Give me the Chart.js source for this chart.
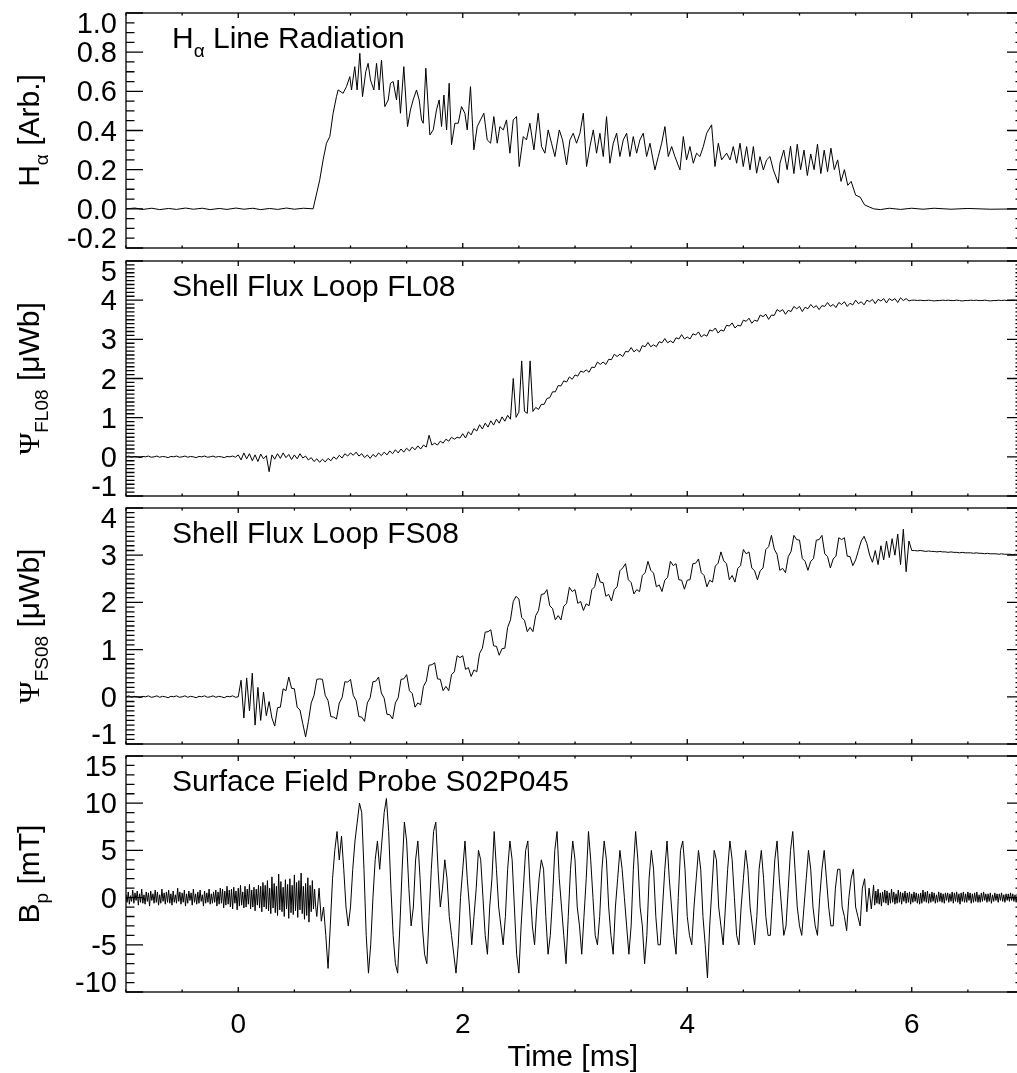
<!DOCTYPE html>
<html>
<head>
<meta charset="utf-8">
<script src="https://cdn.jsdelivr.net/npm/chart.js@4.4.0/dist/chart.umd.min.js"></script>
<style>
html,body{margin:0;padding:0;background:#fff;overflow:hidden;width:1017px;height:1073px}
#wrap{position:relative;width:1040px;height:1073px}
#wrap canvas{position:absolute;left:0;top:0}
</style>
</head>
<body>
<div id="wrap">
  <canvas id="p1" width="1040" height="1073"></canvas>
  <canvas id="p2" width="1040" height="1073"></canvas>
  <canvas id="p3" width="1040" height="1073"></canvas>
  <canvas id="p4" width="1040" height="1073"></canvas>
</div>
<script>
/* H-alpha: [time ms, value] pairs */
const haPts = [[-1,0],[-0.92,0.004],[-0.85,-0.003],[-0.77,0.003],[-0.7,-0.004],[-0.62,0.002],[-0.55,-0.003],
[-0.47,0.004],[-0.4,-0.002],[-0.32,0.003],[-0.25,-0.004],[-0.17,0.002],[-0.1,-0.003],[-0.02,0.004],[0.05,-0.002],
[0.13,0.003],[0.2,-0.004],[0.28,0.002],[0.35,-0.003],[0.43,0.004],[0.5,-0.002],[0.58,0.003],[0.667,0],
[0.726,0.148],[0.756,0.25],[0.786,0.335],[0.816,0.37],[0.845,0.488],[0.875,0.573],[0.89,0.607],[0.934,0.59],
[0.964,0.624],[0.994,0.675],[1.009,0.607],[1.038,0.726],[1.059,0.607],[1.083,0.794],[1.107,0.573],[1.136,0.70],
[1.157,0.743],[1.178,0.658],[1.208,0.607],[1.232,0.743],[1.255,0.607],[1.276,0.76],[1.306,0.522],[1.336,0.556],
[1.356,0.641],[1.38,0.65],[1.41,0.556],[1.425,0.658],[1.445,0.488],[1.475,0.726],[1.508,0.42],[1.534,0.505],
[1.558,0.556],[1.588,0.607],[1.612,0.556],[1.633,0.454],[1.648,0.437],[1.671,0.718],[1.707,0.377],[1.737,0.403],
[1.766,0.505],[1.79,0.556],[1.811,0.42],[1.832,0.581],[1.856,0.403],[1.879,0.641],[1.9,0.327],[1.93,0.437],
[1.96,0.437],[1.989,0.522],[2.019,0.488],[2.04,0.403],[2.069,0.624],[2.099,0.301],[2.129,0.42],[2.158,0.454],
[2.188,0.488],[2.218,0.352],[2.248,0.335],[2.277,0.471],[2.307,0.335],[2.331,0.42],[2.361,0.403],[2.39,0.454],
[2.42,0.284],[2.45,0.454],[2.479,0.471],[2.503,0.216],[2.539,0.369],[2.568,0.352],[2.598,0.437],[2.634,0.301],
[2.672,0.488],[2.702,0.318],[2.732,0.284],[2.761,0.403],[2.791,0.335],[2.821,0.267],[2.86,0.403],[2.889,0.352],
[2.925,0.225],[2.955,0.352],[2.984,0.386],[3.014,0.335],[3.044,0.386],[3.074,0.488],[3.103,0.216],[3.133,0.318],
[3.163,0.403],[3.192,0.284],[3.222,0.386],[3.252,0.267],[3.281,0.471],[3.311,0.233],[3.341,0.335],[3.371,0.386],
[3.4,0.267],[3.43,0.352],[3.46,0.386],[3.489,0.267],[3.519,0.369],[3.549,0.284],[3.578,0.352],[3.608,0.386],
[3.638,0.267],[3.668,0.335],[3.712,0.199],[3.742,0.267],[3.772,0.335],[3.801,0.42],[3.831,0.267],[3.861,0.318],
[3.89,0.267],[3.935,0.199],[3.965,0.369],[3.994,0.25],[4.024,0.318],[4.054,0.233],[4.083,0.284],[4.113,0.267],
[4.143,0.318],[4.173,0.386],[4.217,0.429],[4.247,0.216],[4.277,0.335],[4.306,0.25],[4.351,0.284],[4.381,0.25],
[4.41,0.318],[4.44,0.233],[4.47,0.335],[4.499,0.216],[4.529,0.318],[4.559,0.199],[4.589,0.318],[4.618,0.182],
[4.648,0.267],[4.678,0.199],[4.707,0.25],[4.737,0.267],[4.767,0.199],[4.811,0.131],[4.826,0.233],[4.86,0.30],
[4.89,0.2],[4.92,0.32],[4.95,0.18],[4.98,0.33],[5.01,0.2],[5.04,0.30],[5.07,0.17],[5.1,0.28],[5.13,0.2],
[5.16,0.33],[5.19,0.18],[5.22,0.3],[5.25,0.19],[5.28,0.31],[5.31,0.2],[5.34,0.25],[5.37,0.14],[5.4,0.2],
[5.43,0.12],[5.46,0.14],[5.5,0.07],[5.54,0.06],[5.58,0.02],[5.62,0.01],[5.66,0],[5.72,-0.004],[5.8,0.003],
[5.9,-0.003],[6.0,0.003],[6.1,-0.002],[6.2,0.003],[6.35,-0.002],[6.5,0.002],[6.7,-0.002],[7,0]];

/* FL08 flux, sampled every 0.025 ms from -1 ms */
const fl08Start = -1, fl08Step = 0.025;
const fl08Vals = [
0,0.02,-0.01,0.01,0,-0.02,0.01,0,0.02,-0.01, 0,0.02,-0.01,0.01,0,-0.02,0.01,0,0.02,-0.01,
0,0.02,-0.01,0.01,0,-0.02,0.01,0,0.02,-0.01, 0,0.02,-0.01,0.01,0,-0.02,0.01,0,0.02,-0.01,
0.05,-0.08,0.1,-0.05,0.08,-0.1,0.05,-0.12,0.07,-0.05,
0.03,-0.38,0.05,-0.06,0.08,-0.04,0.1,-0.02,0.06,-0.07,
0.05,-0.05,0.08,-0.03,0.02,-0.08,-0.02,-0.12,-0.05,-0.14,
-0.06,-0.13,-0.04,-0.1,0.0,-0.06,0.04,-0.03,0.08,0.02,
0.1,0.04,0.12,0.02,0.08,-0.02,0.05,-0.04,0.06,0.0,
0.1,0.03,0.12,0.05,0.15,0.08,0.18,0.1,0.2,0.12,
0.22,0.15,0.25,0.18,0.28,0.2,0.3,0.25,0.55,0.3,
0.35,0.3,0.4,0.35,0.45,0.4,0.5,0.45,0.5,0.48,
0.59,0.48,0.64,0.56,0.72,0.66,0.82,0.71,0.86,0.76,
0.92,0.81,0.96,0.86,1.02,0.91,1.06,0.96,2.0,1.01,
1.14,2.45,1.16,1.11,2.45,1.16,1.26,1.21,1.34,1.34,
1.49,1.51,1.66,1.66,1.82,1.81,1.94,1.91,2.04,1.98,
2.09,2.06,2.19,2.16,2.22,2.16,2.29,2.28,2.42,2.36,
2.42,2.36,2.49,2.48,2.62,2.56,2.62,2.56,2.69,2.68,
2.79,2.68,2.74,2.68,2.84,2.81,2.92,2.81,2.86,2.81,
2.94,2.91,3.02,2.91,2.96,2.91,3.04,3.01,3.12,3.01,
3.06,3.01,3.14,3.11,3.19,3.06,3.12,3.08,3.24,3.21,
3.29,3.16,3.24,3.21,3.36,3.34,3.42,3.29,3.36,3.34,
3.49,3.46,3.54,3.41,3.49,3.46,3.62,3.58,3.64,3.51,
3.62,3.61,3.76,3.71,3.76,3.64,3.74,3.71,3.84,3.78,
3.84,3.71,3.82,3.78,3.89,3.81,3.86,3.76,3.86,3.84,
3.94,3.84,3.89,3.81,3.94,3.89,3.96,3.84,3.92,3.88,
4.0,3.91,3.96,3.88,4.0,3.96,4.02,3.91,4.02,3.98,
4.04,3.93,4.04,3.99,4.04,3.94,4.06,3.99,4.04,3.98,
4.0,
4.0,3.99,4.0,3.99,3.99,4.0,3.99,3.98,3.99,3.99, 4.0,3.99,4.0,3.99,3.99,4.0,3.99,3.98,3.99,3.99,
4.0,3.99,4.0,3.99,3.99,4.0,3.99,3.98,3.99,3.99, 4.0,3.99,4.0,3.99,3.99,4.0,3.99,3.98,3.99,3.99];

/* FS08 flux, sampled every 0.025 ms from -1 ms */
const fs08Start = -1, fs08Step = 0.025;
const fs08Vals = [
0,0.02,-0.01,0.01,0,-0.02,0.01,0,0.02,-0.01, 0,0.02,-0.01,0.01,0,-0.02,0.01,0,0.02,-0.01,
0,0.02,-0.01,0.01,0,-0.02,0.01,0,0.02,-0.01, 0,0.02,-0.01,0.01,0,-0.02,0.01,0,0.02,-0.01,
0.0,0.35,-0.45,0.4,-0.3,0.5,-0.6,0.2,-0.5,0.1,
-0.4,-0.1,-0.45,-0.62,-0.23,-0.22,0.17,0.13,0.42,0.18,
0.17,-0.22,-0.28,-0.57,-0.85,-0.52,-0.13,0.03,0.37,0.38,
0.37,0.03,-0.08,-0.42,-0.43,-0.47,-0.13,-0.02,0.32,0.31,
0.37,0.03,-0.08,-0.42,-0.43,-0.52,-0.13,-0.02,0.32,0.33,
0.42,0.08,-0.03,-0.37,-0.38,-0.47,-0.13,-0.02,0.37,0.38,
0.47,0.13,0.07,-0.22,-0.13,-0.17,0.22,0.33,0.67,0.68,
0.72,0.38,0.37,0.13,0.22,0.13,0.47,0.53,0.87,0.83,
0.87,0.58,0.62,0.43,0.57,0.53,0.92,1.03,1.37,1.38,
1.42,1.08,1.07,0.88,1.02,1.03,1.47,1.63,2.02,2.13,
2.07,1.68,1.62,1.38,1.47,1.38,1.72,1.83,2.17,2.18,
2.27,1.93,1.87,1.63,1.72,1.63,1.92,1.98,2.32,2.23,
2.27,1.98,2.02,1.83,1.97,1.93,2.27,2.33,2.62,2.43,
2.42,2.13,2.17,2.03,2.27,2.33,2.67,2.73,2.82,2.48,
2.42,2.18,2.27,2.23,2.57,2.63,2.87,2.68,2.62,2.33,
2.37,2.23,2.47,2.53,2.87,2.78,2.82,2.48,2.47,2.28,
2.47,2.48,2.82,2.83,2.92,2.63,2.57,2.33,2.47,2.43,
2.77,2.83,3.07,2.88,2.82,2.48,2.57,2.43,2.72,2.78,
3.12,3.03,3.07,2.73,2.67,2.48,2.67,2.73,3.12,3.18,
3.42,3.13,3.02,2.68,2.72,2.63,2.97,3.08,3.42,3.33,
3.32,2.93,2.87,2.68,2.87,2.93,3.32,3.33,3.42,3.03,
2.97,2.73,2.92,2.98,3.37,3.33,3.37,2.98,2.97,2.78,
2.9,3.1,3.3,3.4,3.25,3.0,2.85,3.1,2.8,3.2,
2.9,3.3,2.95,3.35,3.0,3.45,2.8,3.55,2.65,3.3,
3.1,
3.1,3.09,3.1,3.09,3.08,3.09,3.08,3.08,3.07,3.08, 3.07,3.07,3.06,3.07,3.06,3.06,3.05,3.06,3.05,3.05,
3.05,3.04,3.05,3.04,3.04,3.03,3.04,3.03,3.03,3.03, 3.02,3.03,3.02,3.02,3.02,3.01,3.02,3.01,3.01,3.01];

/* surface probe Bp [mT]: quiet lead-in (0.01 ms steps), active phase (0.02 ms), quiet tail (0.01 ms) */
const bpLeadStart = -1, bpLeadStep = 0.01;
const bpLead = [
0.3,-0.5,0.6,-0.7,0.2,-0.4,0.8,-0.6,0.5,-0.3, 0.7,-0.8,0.4,-0.5,0.9,-0.6,0.3,-0.7,0.6,-0.4,
0.5,-0.9,0.7,-0.3,0.4,-0.6,0.8,-0.5,0.6,-0.8, 0.3,-0.6,0.9,-0.4,0.5,-0.7,0.6,-0.5,0.8,-0.6,
0.4,-0.8,0.7,-0.5,0.3,-0.6,1.0,-0.4,0.6,-0.7, 0.5,-0.5,0.8,-0.9,0.4,-0.6,0.7,-0.3,0.5,-0.8,
0.9,-0.5,0.4,-0.7,0.6,-0.6,0.8,-0.4,0.3,-0.9, 0.7,-0.6,0.5,-0.5,0.9,-0.7,0.4,-0.6,0.6,-0.5,
0.8,-0.9,0.6,-0.7,1.0,-0.6,0.9,-1.1,0.7,-0.8, 1.2,-0.7,0.8,-1.0,0.9,-1.2,1.1,-0.6,0.7,-1.3,
1.0,-0.9,1.3,-0.8,0.6,-1.1,1.2,-1.0,0.9,-0.7, 1.4,-1.2,0.8,-1.0,1.1,-1.4,0.9,-0.8,1.3,-1.1,
1.2,-1.5,1.6,-1.0,1.3,-1.2,1.8,-1.4,1.0,-1.7, 2.2,-1.1,1.5,-1.6,1.2,-1.9,2.5,-1.3,1.7,-1.5,
1.1,-2.0,1.9,-1.2,1.4,-2.2,2.0,-1.6,1.3,-1.8, 2.4,-1.4,1.6,-2.1,1.8,-1.3,2.6,-1.7,1.2,-2.3,
1.5,-1.9,2.1,-2.6,1.3,-1.5,1.8,-1.2,0.9,-1.0, -2.0];
const bpCoreStart = 0.72, bpCoreStep = 0.02;
const bpCore = [
1.0,-2.5,-1,-4,-7.5,-3,2,5,7,
4,6.5,3,-1,-3,-1,3,6,8,10, 9,3,-4,-8,-5,0,4,6,3,6, 9,10.5,7,1,-4,-7,-8,-3,3,8,
6,1,-3,-1,4,6,2,-3,-6,-7, -2,3,7,8,3,-1,1,4,2,-2, -4,-6,-8,-5,0,
3,6,2,-1,-5,-2,1,5,4,0, -4,-6,-1,2,7,3,-1,-3,-5,-2, 3,6,4,-1,-6,-8,-3,1,5,6,
1,-3,-5,-1,2,4,3,-2,-6,-4, 0,5,7,2,-1,-4,-7,-2,3,6,
4,-1,-3,-6,-2,2,7,4,0,-4, -5,-2,3,6,4,-1,-4,-6,-1,2, 5,3,0,-3,-6,-3,3,7,4,-1,
-3,-7,-4,2,5,3,-2,-5,-5,-1, 3,6,2,-1,-4,-6,0,5,6,3,
-2,-4,-5,-1,2,5,3,-2,-5,-8.5, -3,1,5,4,-1,-3,-5,-1,3,6, 4,0,-4,-5,-1,2,5,3,-1,-3,
-5,-2,3,5,2,-2,-4,-4,0,4, 6,2,-1,-4,-3,1,5,7,3,-1,
-3,-4,-1,2,5,3,-1,-3,-4,0, 3,5,2,-1,-3,-3,1,3,3,-1, -2,-3.5,0,2,3,-1,-2,-3,1,2,
-1.5,1,-1.2,1.3];
const bpTailStart = 5.67, bpTailStep = 0.01;
const bpTail = [
-0.8,0.7,-0.6,0.9,-0.7,0.5,-0.9,0.6,-0.5,0.8, -0.6,0.7,-0.8,0.5,-0.6,0.9,-0.5,0.6,-0.7,0.4,
-0.6,0.8,-0.5,0.6,-0.7,0.5,-0.4,0.7,-0.6,0.5, -0.5,0.6,-0.7,0.4,-0.5,0.6,-0.4,0.5,-0.6,0.4,
-0.7,0.5,-0.6,0.8,-0.4,0.6,-0.5,0.7,-0.6,0.4, -0.5,0.6,-0.4,0.5,-0.6,0.3,-0.5,0.6,-0.4,0.5,
-0.5,0.4,-0.6,0.5,-0.3,0.5,-0.5,0.4,-0.4,0.6, -0.6,0.5,-0.4,0.6,-0.5,0.4,-0.7,0.5,-0.4,0.6,
-0.5,0.4,-0.5,0.6,-0.3,0.5,-0.6,0.4,-0.5,0.5, -0.4,0.6,-0.5,0.3,-0.5,0.5,-0.4,0.6,-0.3,0.4,
-0.5,0.4,-0.4,0.5,-0.6,0.3,-0.4,0.5,-0.3,0.4, -0.5,0.4,-0.3,0.5,-0.4,0.3,-0.5,0.4,-0.3,0.4,
-0.4,0.5,-0.3,0.4,-0.4,0.3,-0.5,0.4,-0.3,0.3, -0.4,0.3,-0.3,0.2];

/* axes: tick values and labels */
const xRange = [-1, 7];
const xMajor = [0, 2, 4, 6];
const xLabels = ['0', '2', '4', '6'];
const haTicks = [-0.2, 0, 0.2, 0.4, 0.6, 0.8, 1.0];
const haLabels = ['-0.2', '0.0', '0.2', '0.4', '0.6', '0.8', '1.0'];
const fl08Ticks = [-1, 0, 1, 2, 3, 4, 5];
const fs08Ticks = [-1, 0, 1, 2, 3, 4];
const bpTicks = [-10, -5, 0, 5, 10, 15];

const SANS = '"Liberation Sans", Arial, Helvetica, sans-serif';
const SERIF = '"Liberation Serif", "DejaVu Serif", serif';
const W = 1040, H = 1073;

const grid = (start, step, vals)=> vals.map((v,i)=>({x: +(start + i*step).toFixed(4), y: v}));

/* draw a run of text pieces, some as subscripts */
function richText(ctx, parts, x, y, size, align){
  const font = p => (p.sub ? Math.round(size*0.62) : size) + 'px ' + (p.serif ? SERIF : SANS);
  const w = parts.map(p=>{ ctx.font = font(p); return ctx.measureText(p.t).width; });
  let cx = align === 'center' ? x - w.reduce((a,b)=>a+b,0)/2 : x;
  ctx.textAlign = 'left';
  ctx.textBaseline = 'alphabetic';
  parts.forEach((p,i)=>{
    ctx.font = font(p);
    ctx.fillText(p.t, cx, y + (p.sub ? size*0.3 : 0));
    cx += w[i];
  });
}

/* IDL style frame: box, inward ticks on all sides, labels */
const idlFrame = {
  id: 'idlFrame',
  afterDatasetsDraw(chart, args, o){
    const {ctx, chartArea:a, scales:{x, y}} = chart;
    ctx.save();
    ctx.strokeStyle = '#000';
    ctx.lineWidth = 1.3;
    ctx.strokeRect(a.left, a.top, a.right - a.left, a.bottom - a.top);
    ctx.beginPath();
    for (let i = 0; xRange[0] + i*0.5 <= xRange[1]; i++){
      const v = xRange[0] + i*0.5;
      const px = x.getPixelForValue(v);
      const len = xMajor.includes(v) ? 5 : 2.5;
      ctx.moveTo(px, a.bottom); ctx.lineTo(px, a.bottom - len);
      ctx.moveTo(px, a.top); ctx.lineTo(px, a.top + len);
    }
    const n = Math.round((o.max - o.min)/o.minor);
    for (let i = 0; i <= n; i++){
      const v = o.min + i*o.minor;
      const py = y.getPixelForValue(v);
      const major = o.ticks.some(t => Math.abs(t - v) < 1e-6);
      const len = major ? 17 : 8.5;
      ctx.moveTo(a.left, py); ctx.lineTo(a.left + len, py);
      ctx.moveTo(a.right, py); ctx.lineTo(a.right - len, py);
    }
    ctx.stroke();

    ctx.fillStyle = '#000';
    ctx.font = '29px ' + SANS;
    ctx.textAlign = 'right';
    ctx.textBaseline = 'alphabetic';
    o.ticks.forEach((t, i)=>{
      let py = y.getPixelForValue(t);
      py = Math.min(Math.max(py, a.top + 10), a.bottom - 10);
      ctx.fillText(o.labels[i], a.left - 9, py + 10);
    });

    if (o.bottom){
      ctx.textAlign = 'center';
      ctx.font = '28px ' + SANS;
      xMajor.forEach((t, i)=> ctx.fillText(xLabels[i], x.getPixelForValue(t), 1033));
      ctx.font = '30px ' + SANS;
      ctx.fillText('Time [ms]', x.getPixelForValue(2.98), 1066);
    }

    richText(ctx, o.note, a.left + 46, a.top + 35, 30, 'left');

    ctx.save();
    ctx.translate(39, (a.top + a.bottom)/2);
    ctx.rotate(-Math.PI/2);
    richText(ctx, o.title, 0, 0, 30, 'center');
    ctx.restore();
    ctx.restore();
  }
};

const panels = [
  {id:'p1', pts:haPts.map(d=>({x:d[0], y:d[1]})), top:13, bottom:248, min:-0.2, max:1.0, minor:0.05,
   ticks:haTicks, labels:haLabels,
   note:[{t:'H'},{t:'α',sub:true},{t:' Line Radiation'}],
   title:[{t:'H'},{t:'α',sub:true},{t:' [Arb.]'}]},
  {id:'p2', pts:grid(fl08Start, fl08Step, fl08Vals), top:261, bottom:496, min:-1, max:5, minor:0.1,
   ticks:fl08Ticks, labels:fl08Ticks.map(String),
   note:[{t:'Shell Flux Loop FL08'}],
   title:[{t:'Ψ',serif:true},{t:'FL08',sub:true},{t:' [μWb]'}]},
  {id:'p3', pts:grid(fs08Start, fs08Step, fs08Vals), top:508, bottom:744, min:-1, max:4, minor:0.1,
   ticks:fs08Ticks, labels:fs08Ticks.map(String),
   note:[{t:'Shell Flux Loop FS08'}],
   title:[{t:'Ψ',serif:true},{t:'FS08',sub:true},{t:' [μWb]'}]},
  {id:'p4', pts:[...grid(bpLeadStart, bpLeadStep, bpLead), ...grid(bpCoreStart, bpCoreStep, bpCore),
                 ...grid(bpTailStart, bpTailStep, bpTail)],
   top:756, bottom:992, min:-10, max:15, minor:1,
   ticks:bpTicks, labels:bpTicks.map(String),
   note:[{t:'Surface Field Probe S02P045'}],
   title:[{t:'B'},{t:'p',sub:true},{t:' [mT]'}]}
];

panels.forEach((p, k)=>{
  new Chart(document.getElementById(p.id), {
    type: 'line',
    data: {
      datasets: [{
        data: p.pts,
        borderColor: '#000',
        borderWidth: 1,
        pointRadius: 0,
        tension: 0,
        fill: false
      }]
    },
    options: {
      responsive: false,
      animation: false,
      events: [],
      layout: {padding: {left:126, right:W-1024, top:p.top, bottom:H-p.bottom}},
      plugins: {
        legend: {display:false},
        tooltip: {enabled:false},
        idlFrame: {min:p.min, max:p.max, minor:p.minor, ticks:p.ticks, labels:p.labels,
                   note:p.note, title:p.title, bottom: k === panels.length - 1}
      },
      scales: {
        x: {type:'linear', min:xRange[0], max:xRange[1], display:false},
        y: {type:'linear', min:p.min, max:p.max, display:false}
      }
    },
    plugins: [idlFrame]
  });
});
</script>
</body>
</html>
